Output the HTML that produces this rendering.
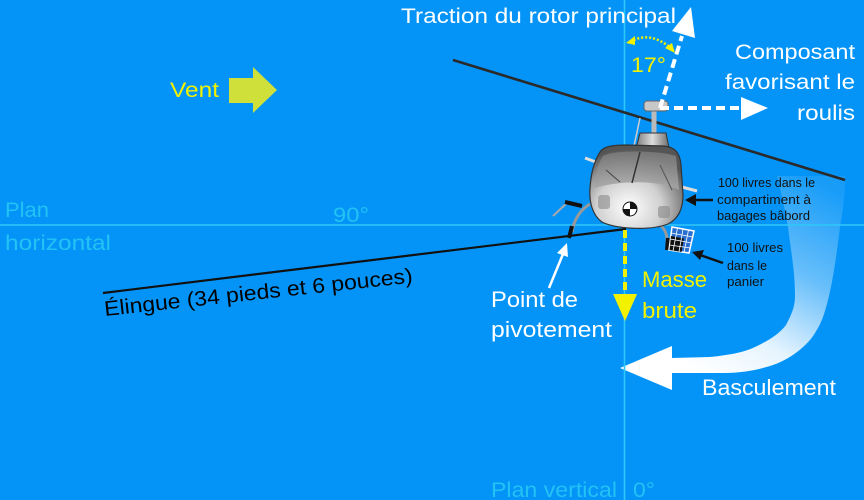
<!DOCTYPE html>
<html><head><meta charset="utf-8"><style>
html,body{margin:0;padding:0;background:#0494f8;}
svg{display:block;}
text{font-family:"Liberation Sans",sans-serif;}
</style></head><body>
<svg width="864" height="500" viewBox="0 0 864 500" xmlns="http://www.w3.org/2000/svg">
<defs>
<linearGradient id="bas" gradientUnits="userSpaceOnUse" x1="810" y1="176" x2="700" y2="372">
<stop offset="0" stop-color="#ffffff" stop-opacity="0.08"/>
<stop offset="0.4" stop-color="#ffffff" stop-opacity="0.4"/>
<stop offset="0.75" stop-color="#ffffff" stop-opacity="0.9"/>
<stop offset="1" stop-color="#ffffff" stop-opacity="1"/>
</linearGradient>
<radialGradient id="body" cx="0.42" cy="0.75" r="0.7">
<stop offset="0" stop-color="#ffffff"/>
<stop offset="0.5" stop-color="#d0d0d0"/>
<stop offset="1" stop-color="#555"/>
</radialGradient>
<linearGradient id="wind" x1="0" y1="0" x2="0" y2="1">
<stop offset="0" stop-color="#7a7a7a"/>
<stop offset="1" stop-color="#a8a8a8"/>
</linearGradient>
<linearGradient id="cowl" x1="0" y1="0" x2="1" y2="0">
<stop offset="0" stop-color="#777"/>
<stop offset="0.5" stop-color="#ddd"/>
<stop offset="1" stop-color="#666"/>
</linearGradient>
</defs>
<rect x="0" y="0" width="864" height="500" fill="#0494f8"/>

<!-- basculement arrow -->
<path d="M777,176 L845,176 C845,200 842,215 840,227 C836,260 832,285 828,300 C824,315 822,322 815,333 C808,345 790,360 770,366 C750,372 735,373 720,373 L672,373 L672,390 L620,368 L672,346 L672,358 L710,357 C730,355 745,352 755,347 C770,340 780,333 786,325 C793,312 795,305 795,295 C795,270 790,245 788,227 C785,210 782,195 777,176 Z" fill="url(#bas)"/>

<!-- cyan plane lines -->
<line x1="0" y1="225" x2="864" y2="225" stroke="#2ec8f8" stroke-width="1.6"/>
<line x1="624.5" y1="0" x2="624.5" y2="500" stroke="#2ec8f8" stroke-width="1.6"/>

<!-- main rotor blade -->
<line x1="453" y1="60" x2="845" y2="180" stroke="#2a2a2a" stroke-width="2.6"/>

<!-- helicopter -->
<g>
<line x1="553" y1="216" x2="568" y2="202" stroke="#aaa" stroke-width="2"/>
<line x1="565" y1="202" x2="582" y2="206" stroke="#111" stroke-width="4"/>
<path d="M590,204 C580,210 574,220 572,232" stroke="#999" stroke-width="3" fill="none"/>
<line x1="572" y1="226" x2="569" y2="238" stroke="#111" stroke-width="4"/>
<path d="M655,222 C664,226 668,234 667,244" stroke="#999" stroke-width="3" fill="none"/>
<line x1="668" y1="238" x2="667" y2="250" stroke="#111" stroke-width="4"/>
<line x1="585" y1="158" x2="604" y2="165" stroke="#ddd" stroke-width="3"/>
<line x1="678" y1="186" x2="697" y2="191" stroke="#ddd" stroke-width="3"/>
<line x1="654" y1="108" x2="654" y2="136" stroke="#bbb" stroke-width="5"/>
<rect x="644" y="101" width="24" height="10" rx="3" fill="#c8c8c8" stroke="#666" stroke-width="1"/>
<line x1="640" y1="118" x2="634" y2="146" stroke="#ccc" stroke-width="1.5"/>
<path d="M640,133 L666,133 L670,153 L635,153 Z" fill="url(#cowl)" stroke="#333" stroke-width="1"/>
<path d="M600,152 C604,146 614,145 626,145 L664,146 C675,147 680,153 681,165 L683,195 C683,209 678,219 668,224 C650,231 616,229 602,222 C592,215 589,201 590,188 C591,172 595,160 600,152 Z" fill="url(#body)" stroke="#333" stroke-width="1.2"/>
<path d="M603,156 C612,150 658,150 676,156 L679,190 C660,180 622,180 594,188 C595,175 598,164 603,156 Z" fill="url(#wind)" opacity="0.85"/>
<line x1="640" y1="152" x2="632" y2="183" stroke="#333" stroke-width="1.5"/>
<line x1="606" y1="170" x2="620" y2="182" stroke="#444" stroke-width="1"/>
<line x1="660" y1="165" x2="672" y2="190" stroke="#555" stroke-width="1"/>
<rect x="598" y="195" width="12" height="14" rx="3" fill="#888" opacity="0.6"/>
<rect x="658" y="206" width="12" height="12" rx="3" fill="#888" opacity="0.6"/>
<circle cx="630" cy="209" r="7" fill="#fff" stroke="#111" stroke-width="1"/>
<path d="M630,209 L637,209 A7,7 0 0 0 630,202 Z" fill="#111"/>
<path d="M630,209 L623,209 A7,7 0 0 0 630,216 Z" fill="#111"/>
</g>

<!-- basket -->
<g>
<path d="M672,227 L694,231 L689,253 L669,250 Z" fill="#2a6fd0" stroke="#fff" stroke-width="1.5"/>
<path d="M671,236 L684,238.5 L681.5,252 L669.5,250 Z" fill="#111"/>
<path d="M677.5,228 L673,251 M683,229 L679,252 M688.5,230 L684,252.5 M671,233 L693,237 M670,239 L692,243 M669.5,245 L690.5,248" stroke="#fff" stroke-width="0.8"/>
</g>

<!-- sling -->
<line x1="103" y1="293" x2="626" y2="229" stroke="#111" stroke-width="2.2"/>
<text x="0" y="0" font-size="21" fill="#000" textLength="310" lengthAdjust="spacingAndGlyphs" transform="translate(105,316) rotate(-6.2)">Élingue (34 pieds et 6 pouces)</text>

<!-- yellow gross mass -->
<line x1="625" y1="230" x2="625" y2="296" stroke="#f2f200" stroke-width="4" stroke-dasharray="8,5"/>
<polygon points="613,294 637,294 625,321" fill="#f2f200"/>

<!-- white dashed arrows -->
<line x1="660" y1="108" x2="682" y2="36" stroke="#fff" stroke-width="4" stroke-dasharray="9,5"/>
<polygon points="691,7 695,38 672,31" fill="#fff"/>
<line x1="660" y1="108" x2="742" y2="108" stroke="#fff" stroke-width="4" stroke-dasharray="9,5"/>
<polygon points="768,108 741,97 741,120" fill="#fff"/>

<!-- 17 degree arc -->
<path d="M630,42 Q650,30 672,49" stroke="#f2f200" stroke-width="2.5" fill="none" stroke-dasharray="2,2"/>
<polygon points="626,43 635,36 635,45" fill="#f2f200"/>
<polygon points="675,53 665,48 672,43" fill="#f2f200"/>

<!-- vent arrow -->
<polygon points="229,78 253,78 253,67 277,90 253,113 253,103 229,103" fill="#d0e03a"/>

<!-- pivot arrow -->
<line x1="549" y1="288" x2="563" y2="254" stroke="#fff" stroke-width="2.5"/>
<polygon points="567,243 568,257 557,253" fill="#fff"/>

<!-- black arrows -->
<line x1="713" y1="200" x2="694" y2="200" stroke="#111" stroke-width="2.5"/>
<polygon points="685,200 696,194 696,206" fill="#111"/>
<line x1="723" y1="263" x2="700" y2="255" stroke="#111" stroke-width="2.5"/>
<polygon points="692,252 704,250 700,260" fill="#111"/>

<!-- texts -->
<text x="401" y="23" font-size="21" fill="#fff" textLength="275" lengthAdjust="spacingAndGlyphs">Traction du rotor principal</text>
<text x="735" y="59" font-size="21" fill="#fff" textLength="120" lengthAdjust="spacingAndGlyphs">Composant</text>
<text x="725" y="89" font-size="21" fill="#fff" textLength="130" lengthAdjust="spacingAndGlyphs">favorisant le</text>
<text x="797" y="120" font-size="21" fill="#fff" textLength="58" lengthAdjust="spacingAndGlyphs">roulis</text>
<text x="631" y="72" font-size="21" fill="#f2f200" textLength="35" lengthAdjust="spacingAndGlyphs">17°</text>
<text x="170" y="97" font-size="21" fill="#f2f200" textLength="49" lengthAdjust="spacingAndGlyphs">Vent</text>
<text x="5" y="217" font-size="21" fill="#22c2f4" textLength="44" lengthAdjust="spacingAndGlyphs">Plan</text>
<text x="5" y="250" font-size="21" fill="#22c2f4" textLength="106" lengthAdjust="spacingAndGlyphs">horizontal</text>
<text x="333" y="222" font-size="21" fill="#22c2f4" textLength="36" lengthAdjust="spacingAndGlyphs">90°</text>
<text x="491" y="497" font-size="21" fill="#22c2f4" textLength="126" lengthAdjust="spacingAndGlyphs">Plan vertical</text>
<text x="633" y="497" font-size="21" fill="#22c2f4" textLength="22" lengthAdjust="spacingAndGlyphs">0°</text>
<text x="491" y="307" font-size="22" fill="#fff" textLength="87" lengthAdjust="spacingAndGlyphs">Point de</text>
<text x="491" y="337" font-size="22" fill="#fff" textLength="121" lengthAdjust="spacingAndGlyphs">pivotement</text>
<text x="642" y="287" font-size="22" fill="#f2f200" textLength="65" lengthAdjust="spacingAndGlyphs">Masse</text>
<text x="642" y="318" font-size="22" fill="#f2f200" textLength="55" lengthAdjust="spacingAndGlyphs">brute</text>
<text x="702" y="395" font-size="22" fill="#fff" textLength="134" lengthAdjust="spacingAndGlyphs">Basculement</text>
<text x="718" y="187" font-size="12.5" fill="#111" textLength="97" lengthAdjust="spacingAndGlyphs">100 livres dans le</text>
<text x="717" y="204" font-size="12.5" fill="#111" textLength="94" lengthAdjust="spacingAndGlyphs">compartiment à</text>
<text x="717" y="220" font-size="12.5" fill="#111" textLength="93" lengthAdjust="spacingAndGlyphs">bagages bâbord</text>
<text x="727" y="252" font-size="12.5" fill="#111" textLength="56" lengthAdjust="spacingAndGlyphs">100 livres</text>
<text x="727" y="270" font-size="12.5" fill="#111" textLength="40" lengthAdjust="spacingAndGlyphs">dans le</text>
<text x="727" y="286" font-size="12.5" fill="#111" textLength="37" lengthAdjust="spacingAndGlyphs">panier</text>
</svg>
</body></html>
